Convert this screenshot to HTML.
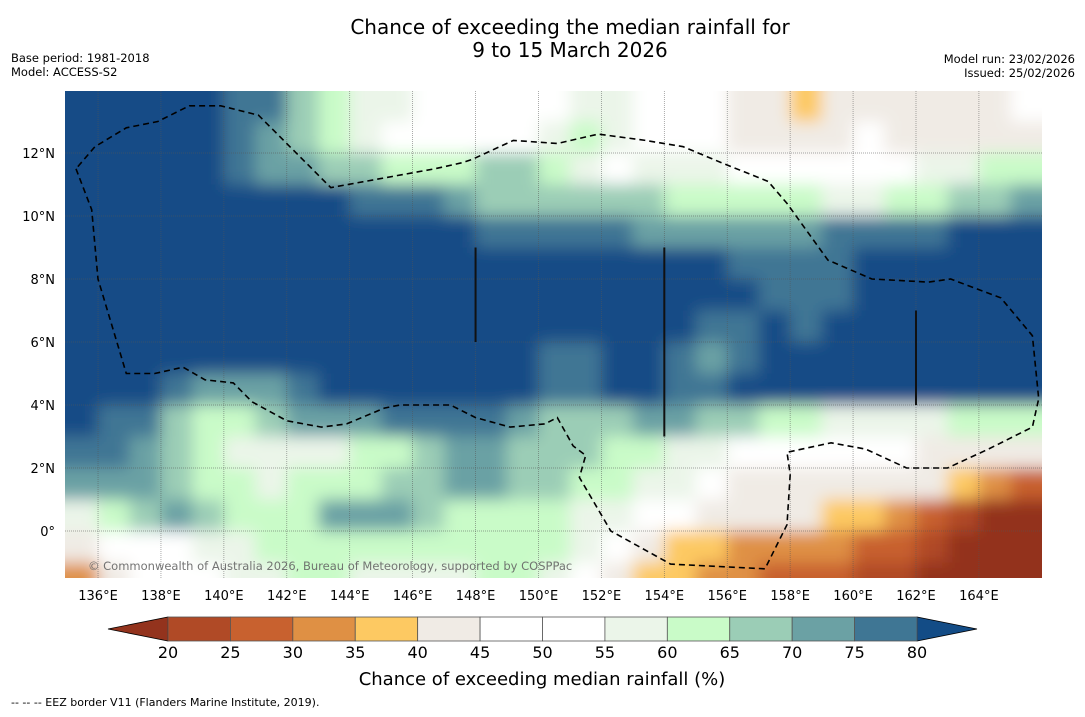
<!DOCTYPE html>
<html><head><meta charset="utf-8"><style>
body{margin:0;background:#fff;width:1085px;height:713px;overflow:hidden;font-family:"DejaVu Sans","Liberation Sans",sans-serif;}
</style></head><body>
<svg id="chart" width="1085" height="713" xmlns="http://www.w3.org/2000/svg" font-family="DejaVu Sans, Liberation Sans, sans-serif">
<defs>
<clipPath id="mapclip"><rect x="65" y="91" width="977" height="487"/></clipPath>
<filter id="soft" x="-5%" y="-5%" width="110%" height="110%"><feGaussianBlur stdDeviation="8"/></filter>
</defs>
<text x="570" y="34" font-size="20" text-anchor="middle">Chance of exceeding the median rainfall for</text>
<text x="570" y="57" font-size="20" text-anchor="middle">9 to 15 March 2026</text>
<text x="11" y="62" font-size="11.5">Base period: 1981-2018</text>
<text x="11" y="76" font-size="11.5">Model: ACCESS-S2</text>
<text x="1075" y="63" font-size="11.5" text-anchor="end">Model run: 23/02/2026</text>
<text x="1075" y="77" font-size="11.5" text-anchor="end">Issued: 25/02/2026</text>
<g clip-path="url(#mapclip)">
<g id="cells" filter="url(#soft)"></g>
<g id="grid"></g>
<path id="eez" fill="none" stroke="#000" stroke-width="1.6" stroke-dasharray="6,4"/>
<g id="islands"></g>
<text x="88" y="570" font-size="11.5" fill="#666" opacity="0.9">© Commonwealth of Australia 2026, Bureau of Meteorology, supported by COSPPac</text>
</g>
<g id="axes"></g>
<g id="colorbar"></g>
<text x="542" y="685" font-size="18" text-anchor="middle">Chance of exceeding median rainfall (%)</text>
<text x="11" y="706" font-size="11">-- -- -- EEZ border V11 (Flanders Marine Institute, 2019).</text>
</svg>
<script>
const lonCenters=[135.5,136.5,137.5,138.5,139.5,140.5,141.5,142.5,143.5,144.5,145.5,146.5,147.5,148.5,149.5,150.5,151.5,152.5,153.5,154.5,155.5,156.5,157.5,158.5,159.5,160.5,161.5,162.5,163.5,164.5,165.5];
const latCenters=[13.5,12.5,11.5,10.5,9.5,8.5,7.5,6.5,5.5,4.5,3.5,2.5,1.5,0.5,-0.5,-1.5];
const probGrid=[
[85,85,85,85,85,77,77,67,62,57,57,52,52,52,52,52,57,57,52,52,47,42,42,37,42,42,42,42,42,42,52],
[85,85,85,85,85,77,72,67,62,57,52,52,52,52,52,57,62,57,52,52,52,42,42,42,42,52,42,42,42,42,42],
[85,85,85,85,85,77,72,72,67,67,62,62,62,67,67,62,57,52,57,57,57,52,52,52,52,52,52,57,57,62,62],
[85,85,85,85,85,85,85,85,85,77,77,77,72,67,67,67,67,67,67,62,62,62,62,62,57,57,62,62,67,67,72],
[85,85,85,85,85,85,85,85,85,85,85,85,85,77,77,77,77,77,72,72,72,72,72,72,77,77,77,77,85,85,85],
[85,85,85,85,85,85,85,85,85,85,85,85,85,85,85,85,85,85,85,85,85,77,77,77,77,85,85,85,85,85,85],
[85,85,85,85,85,85,85,85,85,85,85,85,85,85,85,85,85,85,85,85,85,85,77,77,77,85,85,85,85,85,85],
[85,85,85,85,85,85,85,85,85,85,85,85,85,85,85,85,85,85,85,85,77,77,85,77,85,85,85,85,85,85,85],
[85,85,85,85,85,85,85,85,85,85,85,85,85,85,85,77,77,85,85,77,72,77,85,85,85,85,85,85,85,85,85],
[85,85,85,77,72,72,72,77,85,85,85,85,85,85,85,77,77,85,85,77,77,85,85,85,85,85,85,85,85,85,85],
[85,77,77,67,62,62,67,72,72,72,77,77,77,77,72,67,67,67,72,72,67,67,62,62,57,57,57,57,62,62,62],
[77,77,72,67,62,57,57,57,57,62,62,67,72,72,67,67,67,62,62,57,57,52,52,52,52,52,52,42,42,42,42],
[72,72,72,67,62,62,57,62,62,62,67,67,72,72,67,67,62,62,57,57,52,42,42,42,42,42,42,42,37,32,27],
[57,62,67,72,67,62,62,62,72,72,72,67,62,62,62,62,57,57,52,52,42,42,42,42,37,37,32,27,22,17,17],
[42,52,52,52,57,57,62,62,62,62,62,62,62,62,62,62,57,52,42,37,37,32,32,32,32,27,27,22,17,17,17],
[32,42,52,52,52,57,57,62,62,57,57,57,57,62,62,57,52,42,37,37,32,32,27,27,27,22,22,17,17,17,17]
];
const binEdges=[20,25,30,35,40,45,50,55,60,65,70,75,80];
const binColors=["#b04a26","#c8612f","#df9044","#fdc962","#f0ebe5","#ffffff","#ffffff","#ebf5e9","#c9fbc8","#9bcdb6","#6ba1a4","#3f7694"];
const underColor="#93331d", overColor="#134c86";
const lonTicks=[136,138,140,142,144,146,148,150,152,154,156,158,160,162,164];
const latTicks=[12,10,8,6,4,2,0];
const colorbarTicks=[20,25,30,35,40,45,50,55,60,65,70,75,80];
const eezLonLat=[[135.3,11.5],[135.8,10.2],[136,8],[136.9,5],[137.8,5],[138.7,5.2],[139.4,4.8],[140.3,4.7],[140.9,4.1],[142,3.5],[143.1,3.3],[143.9,3.4],[145.1,3.9],[145.6,4],[147.2,4],[148,3.6],[149.1,3.3],[150.2,3.4],[150.6,3.6],[151.1,2.7],[151.5,2.4],[151.3,1.7],[152.3,0],[154.2,-1.05],[157.2,-1.2],[157.9,0.2],[158,1.8],[157.9,2.5],[159.3,2.8],[160.4,2.6],[161.7,2],[163,2],[164.3,2.6],[165.7,3.3],[165.9,4.2],[165.7,6.2],[164.7,7.4],[163.1,8],[162.4,7.9],[160.6,8],[159.2,8.6],[157.9,10.4],[157.3,11.1],[155.8,11.7],[154.6,12.2],[153.4,12.4],[151.9,12.6],[150.6,12.3],[149.2,12.4],[147.9,11.8],[147.6,11.7],[146.7,11.5],[143.4,10.9],[142.6,11.7],[141.1,13.2],[139.9,13.5],[138.9,13.5],[137.9,13],[136.9,12.8],[135.9,12.2],[135.3,11.5]];
const vlines=[[148,9,6],[154,9,3],[162,7,4]];

const NS="http://www.w3.org/2000/svg";
const X=lon=>65+(lon-134.95)*31.46;
const Y=lat=>531-lat*31.5;
function mk(tag,attrs,parent){const e=document.createElementNS(NS,tag);for(const k in attrs)e.setAttribute(k,attrs[k]);parent.appendChild(e);return e;}
function colorFor(v){if(v<binEdges[0])return underColor;if(v>=binEdges[binEdges.length-1])return overColor;for(let i=0;i<binColors.length;i++){if(v<binEdges[i+1])return binColors[i];}return overColor;}

const cells=document.getElementById('cells');
latCenters.forEach((lat,r)=>{lonCenters.forEach((lon,c)=>{
  let x0=X(lon-0.5),x1=X(lon+0.5),y0=Y(lat+0.5),y1=Y(lat-0.5);
  if(c===0)x0-=40; if(c===lonCenters.length-1)x1+=40;
  if(r===0)y0-=40; if(r===latCenters.length-1)y1+=40;
  const e=mk('rect',{x:x0,y:y0,width:x1-x0+0.6,height:y1-y0+0.6,fill:colorFor(probGrid[r][c])},cells);
  
  
});});

const grid=document.getElementById('grid');
lonTicks.forEach(l=>{const e=mk('line',{x1:X(l),x2:X(l),y1:91,y2:578,stroke:'#555',"stroke-width":0.7,"stroke-dasharray":"1,1",opacity:0.7},grid);
});
latTicks.forEach(l=>{const e=mk('line',{x1:65,x2:1042,y1:Y(l),y2:Y(l),stroke:'#555',"stroke-width":0.7,"stroke-dasharray":"1,1",opacity:0.7},grid);
});

document.getElementById('eez').setAttribute('d',eezLonLat.map((p,i)=>(i?'L':'M')+X(p[0]).toFixed(1)+','+Y(p[1]).toFixed(1)).join(''));

const isl=document.getElementById('islands');
vlines.forEach(v=>{const e=mk('line',{x1:X(v[0]),x2:X(v[0]),y1:Y(v[1]),y2:Y(v[2]),stroke:'#111',"stroke-width":2},isl);
});

const axes=document.getElementById('axes');
lonTicks.forEach(l=>{const t=mk('text',{x:X(l),y:600,"font-size":13,"text-anchor":"middle"},axes);t.textContent=l+'°E';
});
latTicks.forEach(l=>{const t=mk('text',{x:55,y:Y(l)+5,"font-size":13,"text-anchor":"end"},axes);t.textContent=(l===0?'0°':l+'°N');
});

const cb=document.getElementById('colorbar');
const CX=v=>168+(v-20)*(917-168)/60;
const cy0=617,cy1=641;
const tl=mk('polygon',{points:`${CX(20)},${cy0} ${CX(20)},${cy1} 108,${(cy0+cy1)/2}`,fill:underColor,stroke:'#000',"stroke-width":0.8},cb);

const tr=mk('polygon',{points:`${CX(80)},${cy0} ${CX(80)},${cy1} 977,${(cy0+cy1)/2}`,fill:overColor,stroke:'#000',"stroke-width":0.8},cb);

binColors.forEach((c,i)=>{const r=mk('rect',{x:CX(binEdges[i]),y:cy0,width:CX(binEdges[i+1])-CX(binEdges[i]),height:cy1-cy0,fill:c,stroke:'#555',"stroke-width":0.8},cb);
});
colorbarTicks.forEach(v=>{const t=mk('text',{x:CX(v),y:658,"font-size":16,"text-anchor":"middle"},cb);t.textContent=v;
});
</script>
</body></html>
